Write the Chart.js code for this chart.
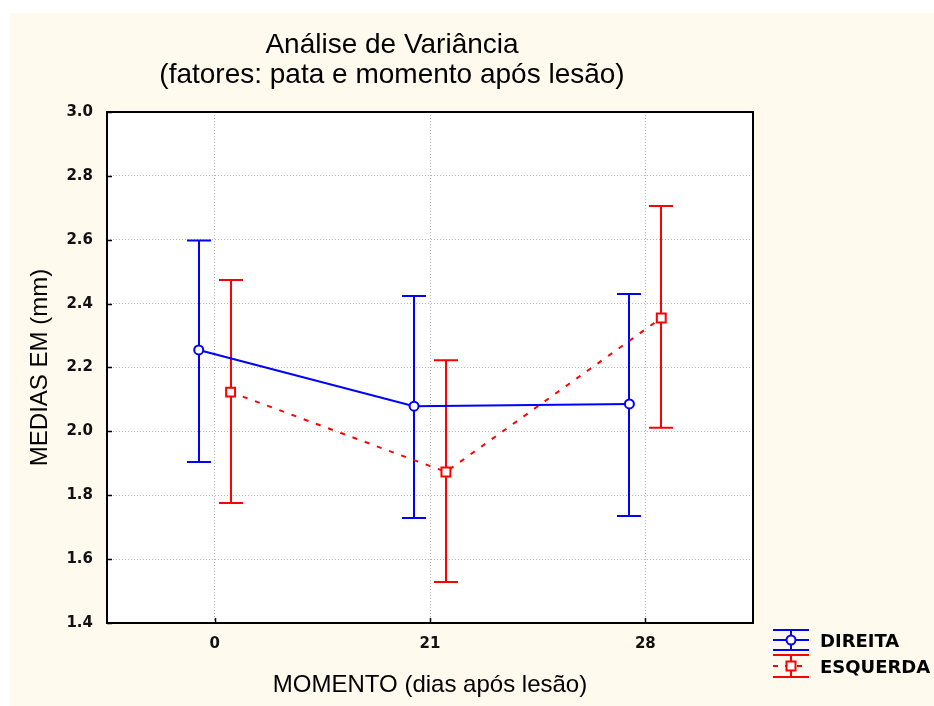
<!DOCTYPE html>
<html>
<head>
<meta charset="utf-8">
<script src="https://cdn.jsdelivr.net/npm/chart.js@4/dist/chart.umd.min.js"></script>
<style>
  html, body { margin: 0; padding: 0; background: #ffffff; }
  #wrap { width: 934px; height: 706px; }
</style>
</head>
<body>
<div id="wrap"><canvas id="c" width="934" height="706"></canvas></div>
<script>
// Momentos (dias após lesão)
const momentos = ['0', '21', '28'];

// Pata direita: média e limites do intervalo
const direitaMedia = [2.255, 2.079, 2.086];
const direitaInf   = [1.904, 1.729, 1.735];
const direitaSup   = [2.598, 2.424, 2.430];

// Pata esquerda: média e limites do intervalo
const esquerdaMedia = [2.123, 1.873, 2.355];
const esquerdaInf   = [1.776, 1.528, 2.011];
const esquerdaSup   = [2.474, 2.223, 2.706];

// Marcas do eixo Y
const yTicks = [1.4, 1.6, 1.8, 2.0, 2.2, 2.4, 2.6, 2.8, 3.0];

const AZUL = '#0000ff';
const VERMELHO = '#ff0000';
const DESLOC = 0.074; // separação horizontal das duas patas em cada momento

const pontos = (medias, lado) => medias.map((m, i) => ({ x: i + lado * DESLOC, y: m }));

const series = [
  { label: 'DIREITA', cor: AZUL, media: direitaMedia, inf: direitaInf, sup: direitaSup, lado: -1 },
  { label: 'ESQUERDA', cor: VERMELHO, media: esquerdaMedia, inf: esquerdaInf, sup: esquerdaSup, lado: 1 }
];

// Fundo: moldura creme e área do gráfico branca
const fundo = {
  id: 'fundo',
  beforeDraw(chart) {
    const { ctx, chartArea: a } = chart;
    ctx.save();
    ctx.fillStyle = '#ffffff';
    ctx.fillRect(0, 0, chart.width, chart.height);
    ctx.fillStyle = '#fff9ee';
    ctx.fillRect(10, 13, chart.width - 10, chart.height - 13);
    ctx.fillStyle = '#ffffff';
    ctx.fillRect(a.left, a.top, a.right - a.left, a.bottom - a.top);
    ctx.restore();
  }
};

// Barras de erro com traços nas pontas
const barrasErro = {
  id: 'barrasErro',
  beforeDatasetsDraw(chart) {
    const { ctx, scales: { x, y } } = chart;
    ctx.save();
    ctx.lineWidth = 2;
    series.forEach(s => {
      ctx.strokeStyle = s.cor;
      s.media.forEach((m, i) => {
        const px = Math.round(x.getPixelForValue(i + s.lado * DESLOC));
        const pTop = y.getPixelForValue(s.sup[i]);
        const pBot = y.getPixelForValue(s.inf[i]);
        ctx.beginPath();
        ctx.moveTo(px, pTop); ctx.lineTo(px, pBot);
        ctx.moveTo(px - 12, pTop); ctx.lineTo(px + 12, pTop);
        ctx.moveTo(px - 12, pBot); ctx.lineTo(px + 12, pBot);
        ctx.stroke();
      });
    });
    ctx.restore();
  }
};

// Moldura, marcas internas, título e legenda
const moldura = {
  id: 'moldura',
  afterDraw(chart) {
    const { ctx, chartArea: a, scales: { x, y } } = chart;
    ctx.save();
    ctx.strokeStyle = '#000000';
    ctx.lineWidth = 1.5;
    ctx.beginPath();
    y.ticks.forEach(t => {
      const py = Math.round(y.getPixelForValue(t.value)) + 0.5;
      ctx.moveTo(a.left, py); ctx.lineTo(a.left + 5, py);
    });
    x.ticks.forEach(t => {
      const px = Math.round(x.getPixelForValue(t.value)) + 0.5;
      ctx.moveTo(px, a.bottom); ctx.lineTo(px, a.bottom - 5);
    });
    ctx.stroke();
    ctx.lineWidth = 2;
    ctx.strokeRect(a.left, a.top, a.right - a.left, a.bottom - a.top);

    // Título
    ctx.fillStyle = '#000000';
    ctx.font = '28px "Liberation Sans", Arial, sans-serif';
    ctx.textAlign = 'center';
    ctx.textBaseline = 'alphabetic';
    ctx.fillText('Análise de Variância', 392, 53);
    ctx.fillText('(fatores: pata e momento após lesão)', 392, 83);

    // Legenda
    const leg = [
      { s: series[0], top: 630, mid: 640, bot: 650, base: 647 },
      { s: series[1], top: 655, mid: 666, bot: 677, base: 673 }
    ];
    leg.forEach((l, k) => {
      const cx = 791;
      ctx.strokeStyle = l.s.cor;
      ctx.lineWidth = 2;
      ctx.beginPath();
      ctx.moveTo(773, l.top); ctx.lineTo(809, l.top);
      ctx.moveTo(773, l.bot); ctx.lineTo(809, l.bot);
      ctx.moveTo(cx, l.top); ctx.lineTo(cx, l.bot);
      ctx.stroke();
      ctx.beginPath();
      if (k === 1) ctx.setLineDash([5, 7]);
      ctx.moveTo(773, l.mid); ctx.lineTo(809, l.mid);
      ctx.stroke();
      ctx.setLineDash([]);
      ctx.fillStyle = '#ffffff';
      ctx.lineWidth = 2;
      ctx.beginPath();
      if (k === 0) ctx.arc(cx, l.mid, 4.5, 0, Math.PI * 2);
      else ctx.rect(cx - 4.5, l.mid - 4.5, 9, 9);
      ctx.fill(); ctx.stroke();
      ctx.fillStyle = '#000000';
      ctx.font = 'bold 18px "DejaVu Sans", sans-serif';
      ctx.textAlign = 'left';
      ctx.fillText(l.s.label, 820, l.base);
    });
    ctx.restore();
  }
};

const tickFont = { family: '"DejaVu Sans", sans-serif', size: 15, weight: 'bold' };
const titleFont = { family: '"Liberation Sans", Arial, sans-serif', size: 24 };

new Chart(document.getElementById('c'), {
  type: 'line',
  data: {
    datasets: series.map((s, k) => ({
      label: s.label,
      data: pontos(s.media, s.lado),
      borderColor: s.cor,
      borderWidth: 2,
      borderDash: k === 1 ? [5, 8] : [],
      pointStyle: k === 0 ? 'circle' : 'rect',
      pointRadius: k === 0 ? 4.5 : 6.3,
      pointBorderWidth: 2,
      pointBackgroundColor: '#ffffff',
      pointBorderColor: s.cor,
      fill: false,
      tension: 0
    }))
  },
  options: {
    responsive: false,
    animation: false,
    devicePixelRatio: 1,
    layout: { padding: { left: 0, top: 112, right: 181, bottom: 0 } },
    plugins: { legend: { display: false }, title: { display: false }, tooltip: { enabled: false } },
    scales: {
      x: {
        type: 'linear',
        min: -0.5,
        max: 2.5,
        afterBuildTicks: sc => { sc.ticks = momentos.map((m, i) => ({ value: i })); },
        afterFit: sc => { sc.height = 83; },
        ticks: {
          callback: v => momentos[v],
          font: tickFont,
          color: '#111111',
          padding: 12,
          maxRotation: 0
        },
        grid: { color: '#b4b4b4', lineWidth: 1, drawTicks: false },
        border: { display: false, dash: [1, 2] },
        title: {
          display: true,
          text: 'MOMENTO (dias após lesão)',
          font: titleFont,
          color: '#000000',
          padding: { top: 0, bottom: 6 }
        }
      },
      y: {
        type: 'linear',
        min: 1.4,
        max: 3.0,
        afterBuildTicks: sc => { sc.ticks = yTicks.map(v => ({ value: v })); },
        afterFit: sc => { sc.width = 107; },
        ticks: {
          callback: v => Number(v).toFixed(1),
          font: tickFont,
          color: '#111111',
          padding: 14
        },
        grid: { color: '#b4b4b4', lineWidth: 1, drawTicks: false },
        border: { display: false, dash: [1, 2] },
        title: {
          display: true,
          text: 'MEDIAS EM (mm)',
          font: titleFont,
          color: '#000000',
          padding: { top: 26, bottom: 0 }
        }
      }
    }
  },
  plugins: [fundo, barrasErro, moldura]
});
</script>
</body>
</html>
